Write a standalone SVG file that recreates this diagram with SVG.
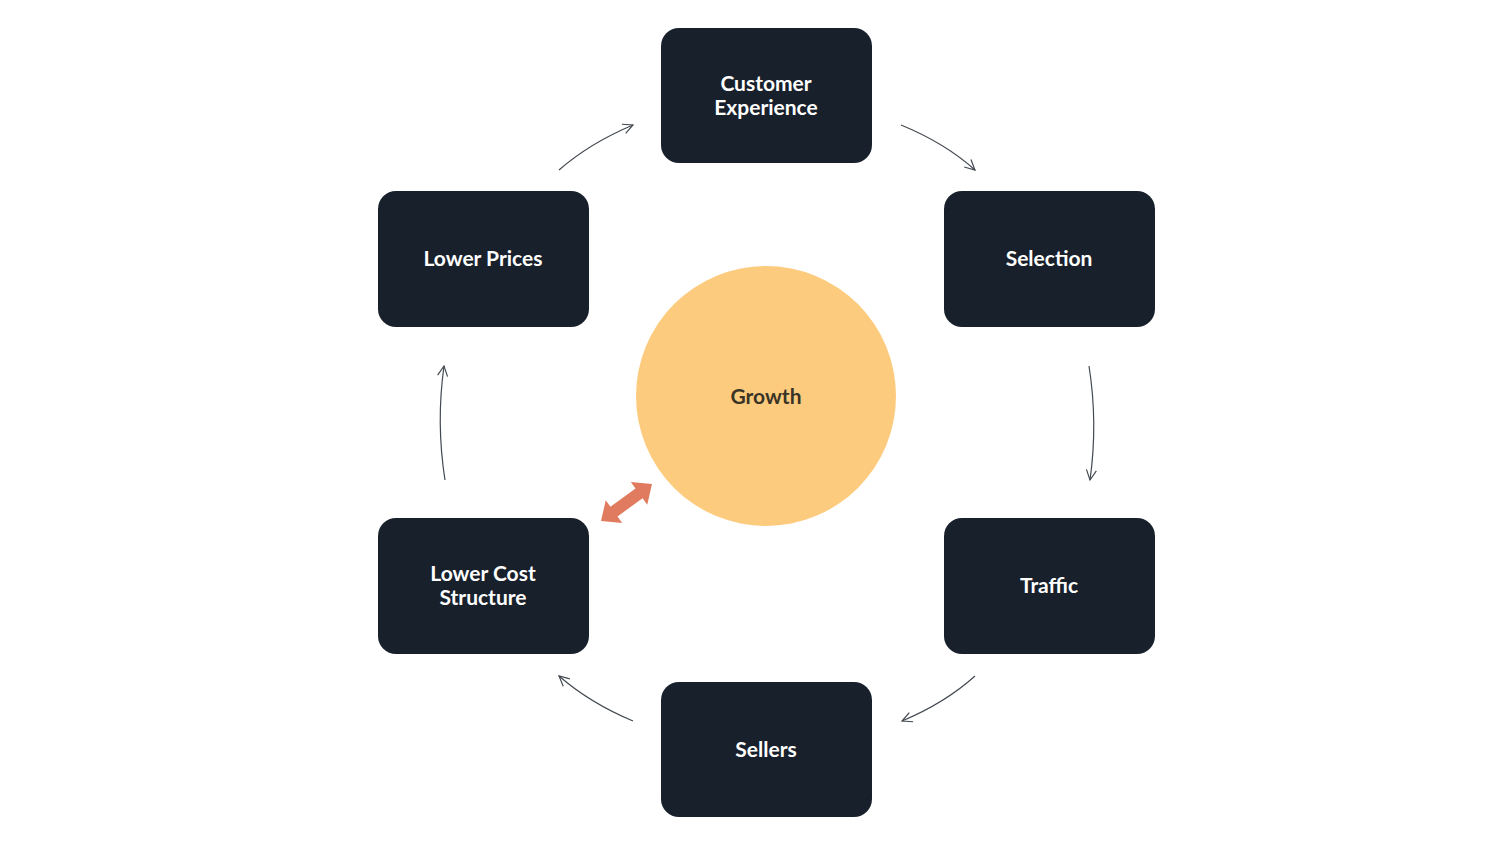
<svg xmlns="http://www.w3.org/2000/svg" width="1500" height="844" viewBox="0 0 1500 844">
<style>
.box{fill:#18202b}
.t{font-family:Lato,"Liberation Sans",sans-serif;font-weight:bold;font-size:21px;fill:#ffffff;text-anchor:middle}
.c{fill:none;stroke:#444a52;stroke-width:1.2}
</style>
<defs>
<marker id="ah" viewBox="0 0 12 12" refX="11" refY="6" markerWidth="12" markerHeight="12" markerUnits="userSpaceOnUse" orient="auto">
<path d="M1,1 L11,6 L1,11" fill="none" stroke="#444a52" stroke-width="1.2"/>
</marker>
</defs>
<rect width="1500" height="844" fill="#ffffff"/>
<g id="growth">
<circle cx="766" cy="396" r="130" fill="#fdcb7e"/>
<text x="766" y="404" class="t" style="fill:#3a3426">Growth</text>
</g>
<g id="customer-experience"><rect class="box" x="661" y="28" width="211" height="135" rx="18"/><text class="t" x="766" y="91">Customer</text><text class="t" x="766" y="115">Experience</text></g>
<g id="selection"><rect class="box" x="944" y="191" width="211" height="136" rx="18"/><text class="t" x="1049" y="266">Selection</text></g>
<g id="traffic"><rect class="box" x="944" y="518" width="211" height="136" rx="18"/><text class="t" x="1049" y="593">Traffic</text></g>
<g id="sellers"><rect class="box" x="661" y="682" width="211" height="135" rx="18"/><text class="t" x="766" y="757">Sellers</text></g>
<g id="lower-cost-structure"><rect class="box" x="378" y="518" width="211" height="136" rx="18"/><text class="t" x="483" y="581">Lower Cost</text><text class="t" x="483" y="605">Structure</text></g>
<g id="lower-prices"><rect class="box" x="378" y="191" width="211" height="136" rx="18"/><text class="t" x="483" y="266">Lower Prices</text></g>
<g id="connectors">
<path class="c" marker-end="url(#ah)" d="M901,125 Q945,143 975,170"/>
<path class="c" marker-end="url(#ah)" d="M1089,366 Q1098,423 1090,480"/>
<path class="c" marker-end="url(#ah)" d="M975,676 Q945,703 902,721"/>
<path class="c" marker-end="url(#ah)" d="M633,721 Q590,703 559,676"/>
<path class="c" marker-end="url(#ah)" d="M445,480 Q436,423 444,366"/>
<path class="c" marker-end="url(#ah)" d="M559,170 Q590,143 633,125"/>
<polygon transform="translate(626.5,502.5) rotate(-36)" fill="#e07b5f" points="-31.5,0 -15.5,-14 -15.5,-6 15.5,-6 15.5,-14 31.5,0 15.5,14 15.5,6 -15.5,6 -15.5,14"/>
</g>
</svg>
